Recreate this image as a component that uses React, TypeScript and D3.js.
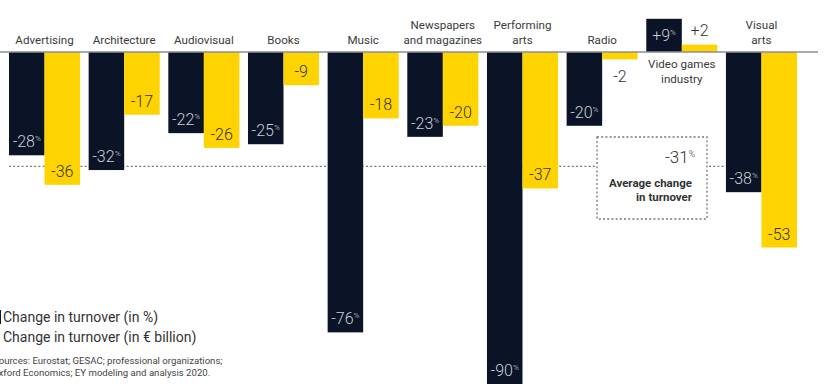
import React from "react";
import * as d3 from "d3";

const categories = [
  "Advertising",
  "Architecture",
  "Audiovisual",
  "Books",
  "Music",
  "Newspapers and magazines",
  "Performing arts",
  "Radio",
  "Video games industry",
  "Visual arts",
];
const categoryLines = [
  ["Advertising"],
  ["Architecture"],
  ["Audiovisual"],
  ["Books"],
  ["Music"],
  ["Newspapers", "and magazines"],
  ["Performing", "arts"],
  ["Radio"],
  ["Video games", "industry"],
  ["Visual", "arts"],
];
const changePct = [-28, -32, -22, -25, -76, -23, -90, -20, 9, -38];
const changeBn = [-36, -17, -26, -9, -18, -20, -37, -2, 2, -53];
const averagePct = -31;
const legendLabels = ["Change in turnover (in %)", "Change in turnover (in € billion)"];
const sourceLines = [
  "Sources: Eurostat; GESAC; professional organizations;",
  "Oxford Economics; EY modeling and analysis 2020.",
];

const W = 839;
const H = 391;
const DARK = "#0a1426";
const YELLOW = "#ffd300";
const FONT = "Roboto, 'Noto Sans', sans-serif";

export default function App() {
  const x = d3.scaleBand<string>().domain(categories).range([9, 797]).paddingInner(0.108).paddingOuter(0);
  const sub = d3.scaleBand<string>().domain(["pct", "bn"]).range([0, x.bandwidth()]);
  const y = d3.scaleLinear().domain([0, -90]).range([52, 384]);
  const y0 = y(0);
  const yAvg = y(averagePct);

  const boxX0 = 597, boxX1 = 707, boxY0 = 137, boxY1 = 219;

  const valueLabel = (v: number, cx: number, isPct: boolean, key: string) => {
    const top = Math.min(y(v), y0);
    const bottom = Math.max(y(v), y0);
    const h = bottom - top;
    let by: number;
    let fill: string;
    if (h < 20 && !isPct) {
      by = v < 0 ? bottom + 23 : top - 9;
      fill = "#333";
    } else {
      by = v < 0 ? bottom - 8 : bottom - 11;
      fill = isPct ? "#c9ced6" : "#333";
    }
    const txt = (v > 0 ? "+" : "") + String(v);
    return (
      <text key={key} x={cx} y={by} textAnchor="middle" fontSize={16} fontWeight={300} fill={fill} fontFamily={FONT}>
        {txt}
        {isPct && (
          <tspan fontSize={8} dy={-6}>
            %
          </tspan>
        )}
      </text>
    );
  };

  return (
    <div style={{ position: "fixed", left: 0, top: 0 }}>
      <svg width={W} height={H} style={{ display: "block", background: "#fff" }}>
        {/* average dotted line */}
        <line x1={9} x2={boxX0 - 2} y1={yAvg} y2={yAvg} stroke="#777" strokeWidth={1.3} strokeDasharray="2,2.2" />
        <line x1={boxX1 + 2} x2={761} y1={yAvg} y2={yAvg} stroke="#777" strokeWidth={1.3} strokeDasharray="2,2.2" />

        {categories.map((c, i) => {
          const bx = x(c)!;
          const pv = changePct[i];
          const bv = changeBn[i];
          return (
            <g key={c}>
              <rect
                x={bx + sub("pct")!}
                y={Math.min(y(pv), y0)}
                width={sub.bandwidth()}
                height={Math.abs(y(pv) - y0)}
                fill={DARK}
              />
              <rect
                x={bx + sub("bn")!}
                y={Math.min(y(bv), y0)}
                width={sub.bandwidth()}
                height={Math.abs(y(bv) - y0)}
                fill={YELLOW}
              />
            </g>
          );
        })}

        {/* axis line */}
        <line x1={0} x2={818} y1={y0} y2={y0} stroke="#8a8f96" strokeWidth={1.5} />

        {categories.map((c, i) => {
          const bx = x(c)!;
          return (
            <g key={c + "-labels"}>
              {valueLabel(changePct[i], bx + sub("pct")! + sub.bandwidth() / 2, true, c + "p")}
              {valueLabel(changeBn[i], bx + sub("bn")! + sub.bandwidth() / 2, false, c + "b")}
            </g>
          );
        })}

        {/* category labels */}
        {categories.map((c, i) => {
          const cx = x(c)! + x.bandwidth() / 2;
          const lines = categoryLines[i];
          const below = changePct[i] > 0;
          return (
            <text key={c + "-cat"} textAnchor="middle" fontSize={11.6} fill="#3a3a3a" fontFamily={FONT}>
              {lines.map((l, j) => {
                const by = below ? 68 + j * 14.5 : 44 - (lines.length - 1 - j) * 15;
                return (
                  <tspan key={j} x={cx} y={by}>
                    {l}
                  </tspan>
                );
              })}
            </text>
          );
        })}

        {/* average box */}
        <rect
          x={boxX0}
          y={boxY0}
          width={boxX1 - boxX0}
          height={boxY1 - boxY0}
          fill="none"
          stroke="#777"
          strokeWidth={1.3}
          strokeDasharray="2,2.2"
        />
        <text x={695} y={163} textAnchor="end" fontSize={17} fontWeight={300} fill="#333" fontFamily={FONT}>
          {String(averagePct)}
          <tspan fontSize={8.5} dy={-6}>
            %
          </tspan>
        </text>
        <text textAnchor="end" fontSize={11.5} fontWeight={700} fill="#333" fontFamily={FONT}>
          <tspan x={692} y={187}>
            Average change
          </tspan>
          <tspan x={692} y={201}>
            in turnover
          </tspan>
        </text>

        {/* legend */}
        <rect x={-14} y={310} width={15} height={14} fill={DARK} />
        <rect x={-15} y={330} width={15} height={14} fill={YELLOW} />
        <text x={3} y={322} fontSize={14} fill="#333" fontFamily={FONT}>
          {legendLabels[0]}
        </text>
        <text x={3} y={342} fontSize={14} fill="#333" fontFamily={FONT}>
          {legendLabels[1]}
        </text>

        {/* sources */}
        <text fontSize={9.6} fill="#444" fontFamily={FONT}>
          <tspan x={-7} y={364}>
            {sourceLines[0]}
          </tspan>
          <tspan x={-8} y={376}>
            {sourceLines[1]}
          </tspan>
        </text>
      </svg>
    </div>
  );
}
